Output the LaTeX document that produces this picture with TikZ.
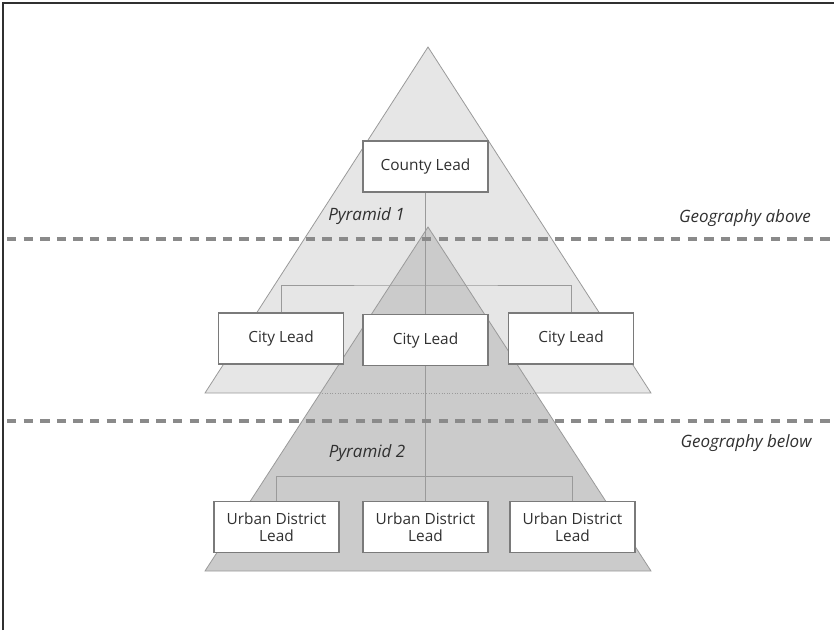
\documentclass[tikz,border=0pt]{standalone}
\usepackage{fontspec}
\setmainfont{Open Sans}
\usepackage{tikz}
\usetikzlibrary{positioning}

\definecolor{edgegray}{HTML}{9A9A9A}
\definecolor{boxgray}{HTML}{7A7A7A}
\definecolor{dashgray}{HTML}{8A8A8A}
\definecolor{txtgray}{HTML}{303030}
\definecolor{pyrlight}{HTML}{E6E6E6}
\definecolor{pyrdark}{HTML}{CBCBCB}

\begin{document}
\begin{tikzpicture}[x=1pt,y=-1pt,
	lead/.style={draw=boxgray, line width=1.4pt, fill=white, minimum width=125pt, minimum height=51pt, align=center, text=txtgray, font=\fontsize{15.4}{17}\selectfont},
	link/.style={draw=edgegray, line width=0.8pt},
	geoline/.style={draw=dashgray, line width=4pt, dash pattern=on 9.3pt off 7.3pt},
	tag/.style={text=txtgray, font=\fontsize{17}{19}\selectfont\itshape}]

	\useasboundingbox (0,0) rectangle (834,630);
	\draw[txtgray, line width=1.5pt] (3,630) -- (3,3) -- (834,3);

	% the two pyramids
	\filldraw[fill=pyrlight, draw=edgegray, line width=0.8pt] (428,47) -- (205,393) -- (651,393) -- cycle;
	\filldraw[fill=pyrdark, draw=edgegray, line width=0.8pt] (428,227) -- (205,571) -- (651,571) -- cycle;
	\begin{scope}
		\clip (428,227) -- (205,571) -- (651,571) -- cycle;
		\draw[edgegray, line width=0.6pt, dotted] (205,393) -- (651,393);
	\end{scope}

	\node[lead] (county) at (425.5,166.5) {County Lead};
	\node[lead] (cityl) at (281,338.5) {City Lead};
	\node[lead] (citym) at (425.5,340) {City Lead};
	\node[lead] (cityr) at (571,338.5) {City Lead};
	\node[lead] (urbl) at (276.5,527) {Urban District\\Lead};
	\node[lead] (urbm) at (425.5,527) {Urban District\\Lead};
	\node[lead] (urbr) at (572.5,527) {Urban District\\Lead};

	\coordinate (citybar) at (425.5,285);
	\coordinate (urbbar) at (425.5,476);

	\draw[link] (county) -- (citym);
	\draw[link] (cityl) |- (citybar) -| (cityr);
	\draw[link] (citym) -- (urbm);
	\draw[link] (urbl) |- (urbbar) -| (urbr);

	\node[tag] (pyr1) at (366.5,216) {Pyramid 1};
	\node[tag] (pyr2) at (367,453) {Pyramid 2};
	\node[tag] (geoabove) at (745,218) {Geography above};
	\node[tag] (geobelow) at (746,443) {Geography below};

	\draw[geoline] (7,239) -- (834,239);
	\draw[geoline] (7,421) -- (834,421);

\end{tikzpicture}
\end{document}
